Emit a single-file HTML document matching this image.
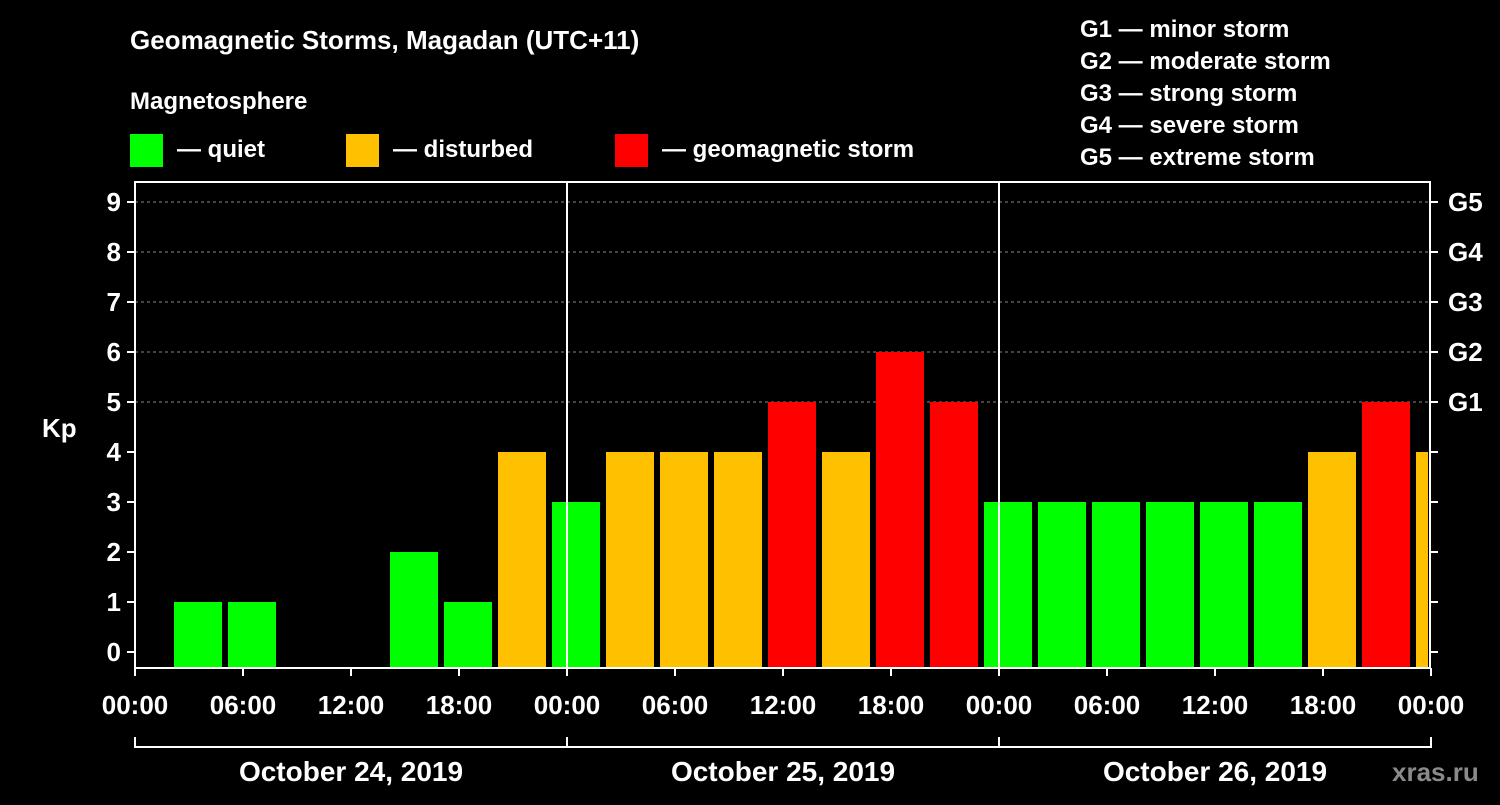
<!DOCTYPE html>
<html><head><meta charset="utf-8"><style>
body{margin:0;background:#000;width:1500px;height:800px;overflow:hidden}
text{font-family:"Liberation Sans",Arial,sans-serif;font-weight:bold;fill:#fff}
</style></head><body>
<svg id="chart" width="1500" height="800" viewBox="0 0 1500 800" xmlns="http://www.w3.org/2000/svg">
<rect width="1500" height="800" fill="#000"/>
<text x="130" y="49" font-size="26">Geomagnetic Storms, Magadan (UTC+11)</text>
<text x="130" y="109" font-size="24">Magnetosphere</text>
<g><rect x="130" y="134" width="33" height="33" fill="#00ff00"/><text x="177" y="157" font-size="24">— quiet</text></g>
<g><rect x="346" y="134" width="33" height="33" fill="#ffc000"/><text x="393" y="157" font-size="24">— disturbed</text></g>
<g><rect x="615" y="134" width="33" height="33" fill="#ff0000"/><text x="662" y="157" font-size="24">— geomagnetic storm</text></g>
<g font-size="24">
<text x="1080" y="37">G1 — minor storm</text>
<text x="1080" y="69">G2 — moderate storm</text>
<text x="1080" y="101">G3 — strong storm</text>
<text x="1080" y="133">G4 — severe storm</text>
<text x="1080" y="165">G5 — extreme storm</text>
</g>
<text x="42" y="437" font-size="26">Kp</text>
<text x="1392" y="781" font-size="26" fill="#888" style="fill:#8a8a8a">xras.ru</text>
<g id="grid"></g><g id="bars"></g><g id="axes"></g>
</svg>
<script>
const kpValues=[null,1,1,null,null,2,1,4,3,4,4,4,5,4,6,5,3,3,3,3,3,3,4,5,4];
const yTicks=[0,1,2,3,4,5,6,7,8,9];
const gLabels=["G1","G2","G3","G4","G5"];
const gLevels=[5,6,7,8,9];
const xTickLabels=["00:00","06:00","12:00","18:00","00:00","06:00","12:00","18:00","00:00","06:00","12:00","18:00","00:00"];
const dayLabels=["October 24, 2019","October 25, 2019","October 26, 2019"];
const NS="http://www.w3.org/2000/svg";
const L=135,R=1430,T=182,B=668;
const y=v=>652-v*50;
const xh=h=>L+h*18;
function mk(tag,at,parent,txt){const e=document.createElementNS(NS,tag);for(const k in at)e.setAttribute(k,at[k]);if(txt!=null)e.textContent=txt;document.getElementById(parent).appendChild(e);return e;}
gLevels.forEach(v=>{const e=mk('line',{x1:L,x2:R,y1:y(v),y2:y(v),stroke:'#888','stroke-dasharray':'3,3','stroke-width':1},'grid');

});
const col=v=>v>=5?'#ff0000':v>=4?'#ffc000':'#00ff00';
kpValues.forEach((v,i)=>{if(v==null)return;const x0=xh(i*3)-15;const x1=Math.min(x0+48,R-2);
const e=mk('rect',{x:x0,y:y(v),width:x1-x0,height:B-y(v),fill:col(v)},'bars');

});
mk('rect',{x:L,y:T,width:R-L,height:B-T,fill:'none',stroke:'#fff','stroke-width':2},'axes');
[1,2].forEach(d=>{const e=mk('line',{x1:xh(d*24),x2:xh(d*24),y1:T,y2:B,stroke:'#fff','stroke-width':2},'axes');

});
yTicks.forEach(v=>{mk('line',{x1:L-8,x2:L,y1:y(v),y2:y(v),stroke:'#fff','stroke-width':2},'axes');
mk('line',{x1:R,x2:R+8,y1:y(v),y2:y(v),stroke:'#fff','stroke-width':2},'axes');
const t=mk('text',{x:L-14,y:y(v)+9,'font-size':26,'text-anchor':'end'},'axes',String(v));

});
gLabels.forEach((g,i)=>{const t=mk('text',{x:1448,y:y(gLevels[i])+9,'font-size':26},'axes',g);

});
xTickLabels.forEach((s,i)=>{const x=xh(i*6);mk('line',{x1:x,x2:x,y1:B,y2:B+8,stroke:'#fff','stroke-width':2},'axes');
const t=mk('text',{x:x,y:714,'font-size':26,'text-anchor':'middle'},'axes',s);

});
mk('line',{x1:L,x2:R,y1:747,y2:747,stroke:'#fff','stroke-width':2},'axes');
for(let d=0;d<=3;d++)mk('line',{x1:xh(d*24),x2:xh(d*24),y1:737,y2:748,stroke:'#fff','stroke-width':2},'axes');
dayLabels.forEach((s,d)=>{const t=mk('text',{x:xh(d*24+12),y:781,'font-size':28,'text-anchor':'middle'},'axes',s);

});
</script>
</body></html>
